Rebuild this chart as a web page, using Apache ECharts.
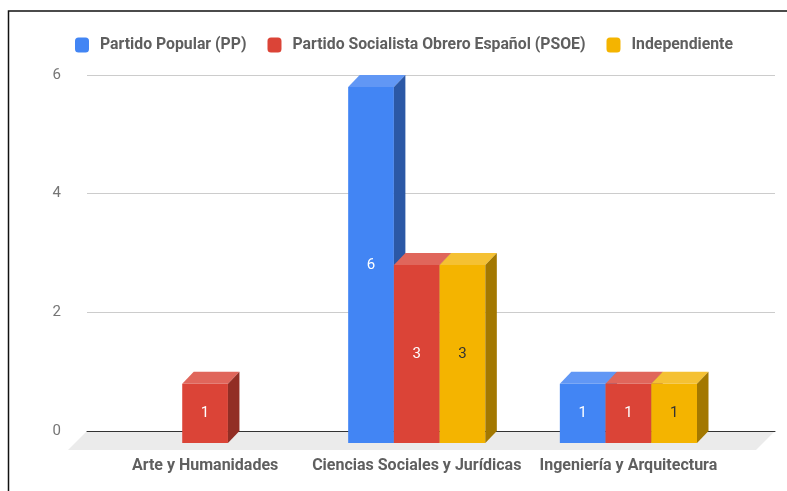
<!DOCTYPE html>
<html>
<head>
<meta charset="utf-8">
<script src="https://cdn.jsdelivr.net/npm/echarts@6/dist/echarts.min.js"></script>
<style>
  html, body { margin: 0; padding: 0; background: #fff; }
  #chart { width: 787px; height: 491px; }
</style>
</head>
<body>
<div id="chart"></div>
<script>
var categories = ['Arte y Humanidades', 'Ciencias Sociales y Jurídicas', 'Ingeniería y Arquitectura'];
var seriesNames = ['Partido Popular (PP)', 'Partido Socialista Obrero Español (PSOE)', 'Independiente'];
var ppValues = [0, 6, 1];
var psoeValues = [1, 3, 1];
var indepValues = [0, 3, 1];
var yTicks = [0, 2, 4, 6];

// colores: frente, tapa, lateral, texto
var faces = [
  { front: '#4285f4', top: '#6197f5', side: '#2b58a6', text: '#ffffff' },
  { front: '#db4437', top: '#e0665b', side: '#922e25', text: '#ffffff' },
  { front: '#f4b400', top: '#f5c133', side: '#a37800', text: '#333333' }
];
var DX = 11.5, DY = 12;   // profundidad 3D
var BAR_FRAC = 0.216;

var myChart = echarts.init(document.getElementById('chart'));

function barRenderer(k) {
  return function (params, api) {
    var v = api.value(1);
    if (!v) return;
    var ci = api.value(0);
    var top = api.coord([ci, v]);
    var base = api.coord([ci, 0]);
    var bw = api.size([1, 0])[0] * BAR_FRAC;
    var x0 = top[0] + (k - 1.5) * bw;
    var x1 = x0 + bw;
    var y0 = top[1], y1 = base[1];
    var c = faces[k];
    return {
      type: 'group',
      children: [
        { type: 'rect', shape: { x: x0, y: y0, width: bw, height: y1 - y0 }, style: { fill: c.front } },
        { type: 'polygon', shape: { points: [[x0, y0], [x1, y0], [x1 + DX, y0 - DY], [x0 + DX, y0 - DY]] }, style: { fill: c.top } },
        { type: 'polygon', shape: { points: [[x1, y0], [x1 + DX, y0 - DY], [x1 + DX, y1 - DY], [x1, y1]] }, style: { fill: c.side } },
        { type: 'text', x: (x0 + x1) / 2, y: (y0 + y1) / 2,
          style: { text: String(v), fill: c.text, fontSize: 15, fontFamily: 'Roboto', align: 'center', verticalAlign: 'middle' } }
      ]
    };
  };
}

function floorRenderer(params, api) {
  var cs = params.coordSys;
  var by = cs.y + cs.height;
  var d = 19;
  return {
    type: 'polygon',
    shape: { points: [[cs.x, by], [cs.x + cs.width, by], [cs.x + cs.width - d, by + d], [cs.x - d, by + d]] },
    style: { fill: '#ebebeb' }
  };
}

function toData(vals) {
  return vals.map(function (v, i) { return [i, v]; });
}

var option = {
  animation: false,
  textStyle: { fontFamily: 'Roboto' },
  graphic: [{
    type: 'rect', z: 100,
    shape: { x: 8.5, y: 11, width: 800, height: 500 },
    style: { fill: 'none', stroke: '#111', lineWidth: 1.5 }
  }],
  legend: {
    left: 70, top: 32,
    itemWidth: 14, itemHeight: 15, itemGap: 21,
    icon: 'roundRect',
    data: seriesNames.map(function (n, i) { return { name: n, itemStyle: { color: faces[i].front } }; }),
    textStyle: { color: '#5f5f5f', fontSize: 15.8, fontWeight: 'bold', fontFamily: 'Roboto', padding: [0, 0, 0, 6] }
  },
  grid: [
    { left: 99.25, right: 52.75, top: 87, bottom: 48 },
    { left: 87, right: 12, top: 75, bottom: 60 }
  ],
  xAxis: [
    { type: 'category', gridIndex: 0, data: categories,
      axisLine: { show: false }, axisTick: { show: false }, splitLine: { show: false },
      axisLabel: { interval: 0, margin: 15, color: '#5f5f5f', fontSize: 16, fontWeight: 'bold', fontFamily: 'Roboto' } },
    { type: 'value', gridIndex: 1, min: 0, max: 1, z: 5,
      axisLine: { show: true, onZero: false, lineStyle: { color: '#333', width: 1 } },
      axisTick: { show: false }, axisLabel: { show: false }, splitLine: { show: false } }
  ],
  yAxis: [
    { type: 'value', gridIndex: 0, min: 0, max: 6, interval: 2, show: false },
    { type: 'value', gridIndex: 1, min: yTicks[0], max: yTicks[yTicks.length - 1], interval: 2,
      axisLine: { show: false }, axisTick: { show: false },
      axisLabel: { margin: 26, color: '#757575', fontSize: 15, fontFamily: 'Roboto' },
      splitLine: { lineStyle: { color: '#cccccc' } } }
  ],
  series: [
    { type: 'custom', name: 'floor', xAxisIndex: 1, yAxisIndex: 1, z: 0,
      renderItem: floorRenderer, data: [[0, 0]], silent: true },
    { type: 'custom', name: seriesNames[0], xAxisIndex: 0, yAxisIndex: 0, z: 6,
      itemStyle: { color: faces[0].front }, renderItem: barRenderer(0), data: toData(ppValues) },
    { type: 'custom', name: seriesNames[1], xAxisIndex: 0, yAxisIndex: 0, z: 6,
      itemStyle: { color: faces[1].front }, renderItem: barRenderer(1), data: toData(psoeValues) },
    { type: 'custom', name: seriesNames[2], xAxisIndex: 0, yAxisIndex: 0, z: 6,
      itemStyle: { color: faces[2].front }, renderItem: barRenderer(2), data: toData(indepValues) }
  ]
};

myChart.setOption(option);
</script>
</body>
</html>
